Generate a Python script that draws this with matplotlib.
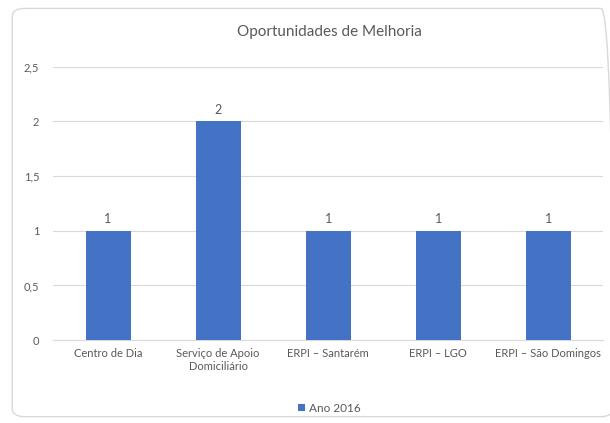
import matplotlib.pyplot as plt
from matplotlib.patches import FancyBboxPatch

categories = ['Centro de Dia', 'Serviço de Apoio\nDomiciliário', 'ERPI – Santarém',
              'ERPI – LGO', 'ERPI – São Domingos']
values = [1, 2, 1, 1, 1]
yticks = [0, 0.5, 1, 1.5, 2, 2.5]
ytick_labels = ['0', '0,5', '1', '1,5', '2', '2,5']

plt.rcParams['font.family'] = ['Lato', 'DejaVu Sans']
grey = '#595959'
blue = '#4472C4'

fig = plt.figure(figsize=(6.1, 4.23), dpi=100)
# rounded chart border
fig.patches.append(FancyBboxPatch((0.02, 0.015), 0.985, 0.965, boxstyle='round,pad=0,rounding_size=0.02',
                                  transform=fig.transFigure, facecolor='none',
                                  edgecolor='#d9d9d9', linewidth=1, zorder=-1))
ax = fig.add_axes([0.087, 0.196, 0.902, 0.646])
ax.set_facecolor('none')

x = range(len(categories))
bars = ax.bar(x, values, width=0.41, color=blue, label='Ano 2016', zorder=3)
for xi, v in zip(x, values):
    ax.text(xi, v + 0.05, str(v), ha='center', va='bottom', fontsize=9, color=grey)

ax.set_ylim(0, 2.5)
ax.set_xlim(-0.5, len(categories) - 0.5)
ax.set_yticks(yticks)
ax.set_yticklabels(ytick_labels, fontsize=8, color=grey)
ax.set_xticks(list(x))
ax.set_xticklabels(categories, fontsize=8, color=grey)
ax.tick_params(length=0, pad=6)
ax.grid(axis='y', color='#d9d9d9', linewidth=0.8, zorder=0)
for s in ['top', 'right', 'left']:
    ax.spines[s].set_visible(False)
ax.spines['bottom'].set_color('#d9d9d9')
ax.yaxis.set_tick_params(pad=10)

fig.text(0.54, 0.925, 'Oportunidades de Melhoria', ha='center', va='center', fontsize=11, color=grey)
fig.legend(handles=[bars], labels=['Ano 2016'], loc='center', bbox_to_anchor=(0.54, 0.035),
           frameon=False, fontsize=8.5, labelcolor=grey, handlelength=0.6, handleheight=0.6,
           handletextpad=0.3)

fig.savefig('out.png', dpi=100)
